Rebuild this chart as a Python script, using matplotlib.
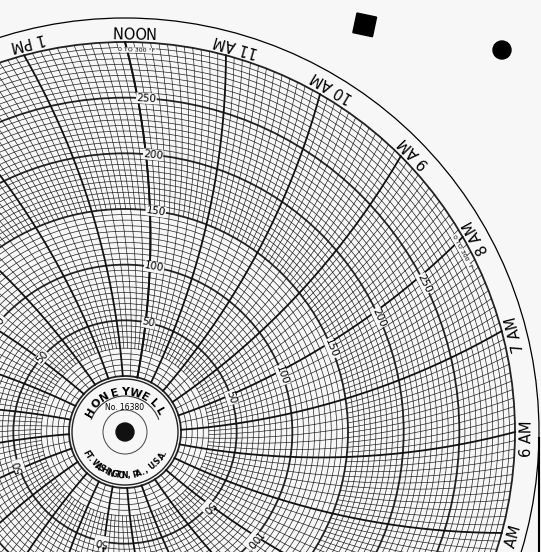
import numpy as np
import matplotlib
matplotlib.use("Agg")
import matplotlib.pyplot as plt
from matplotlib.patches import Circle, Arc, Rectangle

hour_labels = ["1 PM", "NOON", "11 AM", "10 AM", "9 AM", "8 AM", "7 AM", "6 AM", "5 AM"]
hour_offsets = [-1, 0, 1, 2, 3, 4, 5, 6, 7]   # hours before noon
value_labels = [50, 100, 150, 200, 250]
labeled_offsets = [0, 4, 8, 12, 16, 20]        # every 4 hours
vmin, vmax = 0, 300

W, H = 541, 552
fig = plt.figure(figsize=(W/100, H/100), dpi=100)
ax = fig.add_axes([0, 0, 1, 1])
ax.set_xlim(0, W); ax.set_ylim(H, 0); ax.set_aspect('equal'); ax.axis('off')
bg = '#f7f7f7'
fig.patch.set_facecolor(bg)

cx, cy = 125, 432
r0, r1 = 56, 390
A = 760.0
noon_ang = 90.0

def rad(v):
    return r0 + (v - vmin) / (vmax - vmin) * (r1 - r0)

def ang(hoff, r):
    base = noon_ang - hoff * 15.0
    return base - np.degrees(np.arcsin(r1 / (2*A))) + np.degrees(np.arcsin(r / (2*A)))

def xy(a, r):
    t = np.radians(a)
    return cx + r*np.cos(t), cy - r*np.sin(t)

ax.add_patch(Circle((cx, cy), 414, fill=False, lw=0.9, color='k'))

# concentric circles
for v in range(vmin, vmax + 1, 5):
    lw = 1.3 if v % 50 == 0 else 0.5
    ax.add_patch(Circle((cx, cy), rad(v), fill=False, lw=lw, color='#222'))

# time lines (5-minute steps)
for k in range(-24*12, 1):
    hoff = k / 12.0
    major = (k % 12 == 0)
    if major or k % 6 == 0:
        rs = r0
    elif k % 2 == 0:
        rs = rad(25)
    else:
        rs = rad(150)
    rr = np.linspace(rs, r1, 200)
    a = ang(hoff, rr)
    x, y = xy(a, rr)
    ax.plot(x, y, color='#111', lw=1.3 if major else 0.45)

# value labels
for ho in labeled_offsets:
    for v in value_labels:
        r = rad(v)
        a = ang(ho, r) - 1.5
        x, y = xy(a, r)
        ax.text(x, y, str(v), rotation=a - 90, ha='center', va='center', fontsize=7.5,
                bbox=dict(facecolor=bg, edgecolor='none', pad=0.3))
    a = ang(ho, r1 - 8) - 1.5
    x, y = xy(a, r1 - 8)
    ax.text(x, y, "0 TO 300 °F", rotation=a - 90, ha='center', va='center', fontsize=4.5,
            bbox=dict(facecolor=bg, edgecolor='none', pad=0.2))

# hour labels (tops facing the centre)
for lab, ho in zip(hour_labels, hour_offsets):
    a = noon_ang - ho * 15.0 - 1.0
    x, y = xy(a, 402)
    ax.text(x, y, lab, rotation=a + 90, ha='center', va='center', fontsize=10.5)

# hub
ax.add_patch(Circle((cx, cy), 53, color=bg, zorder=3))
ax.add_patch(Circle((cx, cy), 53, fill=False, lw=1, color='#222', zorder=3))
ax.add_patch(Circle((cx, cy), 22, fill=False, lw=0.7, color='#444', zorder=4))
ax.add_patch(Circle((cx, cy), 9, color='#111', zorder=5))
ax.add_patch(Arc((cx, cy), 72, 72, theta1=200, theta2=340, lw=0.8, color='#333', zorder=4))
for i, ch in enumerate("HONEYWELL"):
    a = 150 - i * 15.0
    x, y = xy(a, 40)
    ax.text(x, y, ch, rotation=a - 90, ha='center', va='center', fontsize=8,
            fontweight='bold', zorder=6)
ax.text(cx, cy - 24, "No. 16380", ha='center', va='center', fontsize=5.5, zorder=6)
txt = "FT. WASHINGTON, PA., U.S.A."
for i, ch in enumerate(txt):
    a = 208 + i * (124 / (len(txt) - 1))
    x, y = xy(a, 44)
    ax.text(x, y, ch, rotation=a + 90, ha='center', va='center', fontsize=5.5,
            fontweight='bold', zorder=6)

# outer marks
ax.add_patch(Arc((cx, cy), 2*435, 2*435, theta1=63, theta2=105, lw=3, color='k'))
ax.add_patch(Rectangle((357, 13), 20, 20, angle=12, color='k'))
ax.add_patch(Circle((502, 50), 9, color='k'))
ax.plot([539, 539], [438, 552], color='k', lw=1.5)

fig.savefig("out.png", dpi=100, facecolor=fig.get_facecolor())
